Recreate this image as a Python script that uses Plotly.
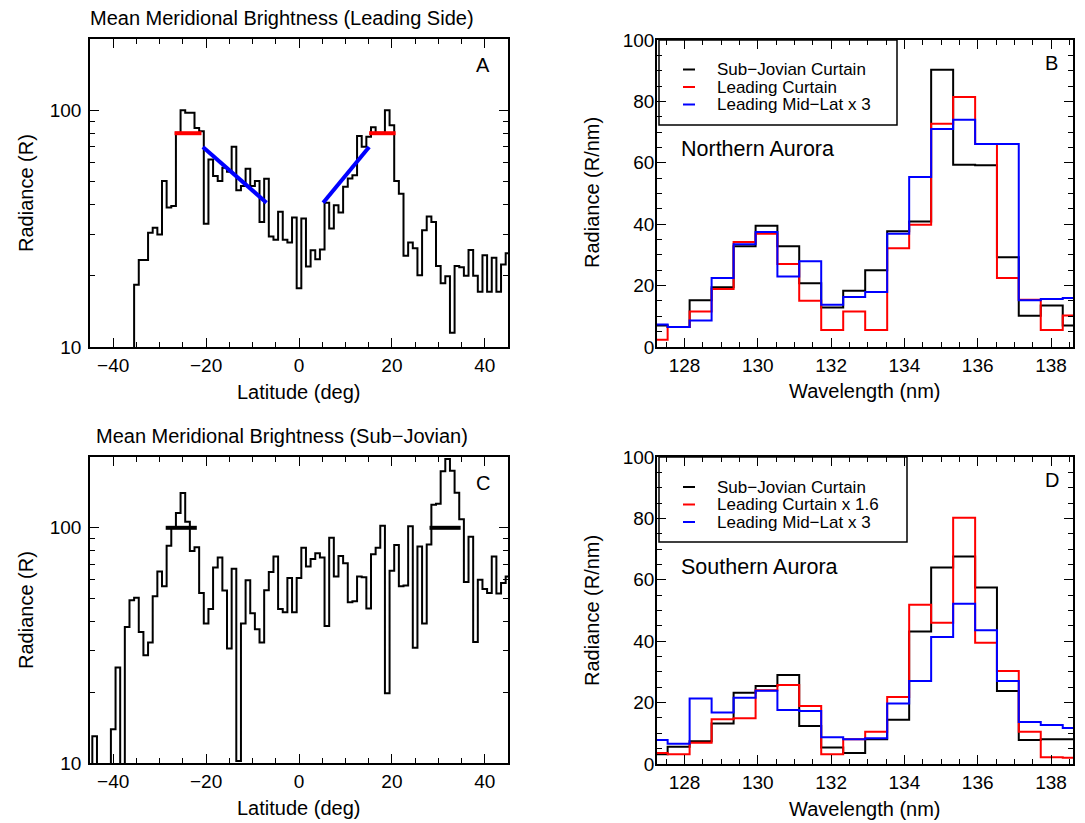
import plotly.graph_objects as go

# page body has an 8 px margin: the figure is drawn 8 px in from the top-left
OFF = 8
W, H = 1085 - OFF, 823 - OFF
FONT = "Liberation Sans, Arial, Helvetica, sans-serif"

# ---------------- data ----------------
lat = list(range(-45, 46))

leading_side = [
    5, 5, 5, 5, 5, 5, 5, 5, 5, 5,
    18.3, 23.3, 23.3, 30.4, 31.9, 29.9, 50.2, 38.8, 39.4, 80.3,
    100, 97.5, 97.5, 84.2, 81.6, 33.2, 62.0, 52.7, 50.2, 57.2,
    55.0, 70.2, 45.9, 47.9, 56.6, 47.9, 50.2, 33.7, 51.4, 29.3,
    28.4, 37.3, 28.4, 27.6, 35.2, 17.7, 34.9, 21.9, 25.6, 23.5,
    25.8, 40.7, 31.7, 39.7, 37.0, 47.5, 51.5, 53.2, 77.8, 70.1,
    77.3, 84.8, 80.3, 80.3, 100, 86.5, 50.2, 44.4, 24.3, 27.6,
    26.1, 20.1, 31.1, 35.6, 33.7, 22.0, 18.6, 19.9, 11.5, 22.0,
    21.7, 20.0, 25.7, 20.0, 17.1, 24.4, 17.1, 23.8, 17.1, 22.3, 24.9,
]

sub_jovian = [
    5, 13.0, 5, 5, 5, 13.9, 25.5, 5, 37.9, 49.2,
    50.4, 36.1, 28.7, 32.5, 51.2, 65.2, 56.4, 83.9, 100.3, 115.7,
    140.5, 106, 79.7, 82.6, 52.8, 39.2, 45.2, 67.8, 74.7, 54.1,
    30.7, 66.9, 10.2, 39.2, 59.8, 43.3, 37.0, 32.5, 54.2, 64.8,
    75.5, 45.2, 43.8, 61.1, 43.8, 61.1, 82.3, 68.5, 73.6, 77.9,
    74.7, 38.2, 90.7, 62.1, 75.9, 70.7, 48.3, 48.7, 62.1, 61.7,
    45.4, 77.2, 82.3, 102, 19.8, 65.7, 84.5, 56.4, 56.9, 101.6,
    30.9, 83.2, 39.2, 85, 125.4, 126.6, 174, 196, 175, 141,
    108.8, 58.8, 91.6, 32.7, 60.1, 54.9, 52.8, 75.5, 52.5, 58.2, 62.1,
]

lead_flat_lat = [[-26.8, -21.0], [15.1, 20.8]]
lead_flat_val = [80, 80]
lead_slope_lat = [[-20.7, -7.0], [5.2, 15.1]]
lead_slope_val = [[69.9, 40.7], [40.7, 69.9]]
subjov_flat_lat = [[-28.7, -22.0], [28.1, 34.8]]
subjov_flat_val = [100, 100]

wavelength = [127.24, 127.84, 128.44, 129.04, 129.64, 130.24, 130.83, 131.43,
              132.03, 132.63, 133.23, 133.83, 134.43, 135.03, 135.63, 136.23,
              136.82, 137.42, 138.02, 138.62]

north_subjov = [7.0, 6.5, 15.2, 19.5, 32.8, 39.5, 32.8, 20.8, 12.9, 18.3,
                25.0, 37.7, 40.9, 90.3, 59.4, 59.2, 29.2, 10.2, 13.5, 7.0]
north_lead = [2.4, 6.5, 11.6, 18.9, 34.2, 36.9, 27.0, 15.1, 5.5, 11.6,
              5.5, 32.2, 39.8, 72.7, 81.4, 66.1, 22.5, 15.4, 5.5, 10.3]
north_mid = [7.3, 6.5, 8.6, 22.5, 33.5, 37.5, 23.0, 27.9, 13.8, 16.3,
             17.9, 36.9, 55.4, 71.0, 74.0, 66.1, 66.1, 15.2, 15.6, 16.0]

south_subjov = [3.2, 5.6, 7.4, 13.2, 23.2, 25.4, 29.0, 12.4, 5.4, 3.6,
                8.1, 14.4, 43.2, 64.0, 67.6, 57.5, 23.8, 7.8, 8.1, 8.1]
south_lead = [3.6, 3.2, 6.9, 14.6, 14.9, 24.0, 25.7, 18.9, 3.2, 8.1,
              10.5, 21.8, 51.9, 46.0, 80.2, 39.5, 30.3, 10.5, 2.2, 2.0]
south_mid = [7.8, 6.6, 21.3, 16.8, 21.6, 23.9, 17.6, 17.3, 8.7, 8.1,
             8.4, 19.7, 27.0, 41.4, 52.2, 43.6, 27.0, 13.7, 12.7, 11.7]

names_north = ["Sub\u2212Jovian Curtain", "Leading Curtain", "Leading Mid\u2212Lat x 3"]
names_south = ["Sub\u2212Jovian Curtain", "Leading Curtain x 1.6", "Leading Mid\u2212Lat x 3"]
series_colors = ["black", "red", "blue"]


# ---------------- helpers (window pixels -> paper fractions) ----------------
def fx(p):
    return (p - OFF) / W


def fy(p):
    return 1 - (p - OFF) / H


fig = go.Figure()


def hist(x, y, xa, ya, color="black", width=2):
    fig.add_trace(go.Scatter(x=x, y=y, mode="lines", xaxis=xa, yaxis=ya,
                             line=dict(color=color, width=width, shape="hvh"),
                             showlegend=False, hoverinfo="skip"))


def seg(x, y, xa, ya, color, width=4):
    fig.add_trace(go.Scatter(x=x, y=y, mode="lines", xaxis=xa, yaxis=ya,
                             line=dict(color=color, width=width),
                             showlegend=False, hoverinfo="skip"))


# Panel A
hist(lat, leading_side, "x", "y")
for xs, v in zip(lead_flat_lat, lead_flat_val):
    seg(xs, [v, v], "x", "y", "red")
for xs, ys in zip(lead_slope_lat, lead_slope_val):
    seg(xs, ys, "x", "y", "blue")

# Panel C
hist(lat, sub_jovian, "x3", "y3")
for xs, v in zip(subjov_flat_lat, subjov_flat_val):
    seg(xs, [v, v], "x3", "y3", "black")

# Panel B
for ys, c in zip([north_subjov, north_lead, north_mid], series_colors):
    hist(wavelength, ys, "x2", "y2", c)
# Panel D
for ys, c in zip([south_subjov, south_lead, south_mid], series_colors):
    hist(wavelength, ys, "x4", "y4", c)

# ---------------- axes ----------------
tickfont = dict(family=FONT, size=19, color="black")


def base_axis(**kw):
    d = dict(showline=True, linecolor="black", linewidth=1.5, mirror="ticks",
             ticks="inside", ticklen=9, tickwidth=1.3, tickcolor="black",
             showgrid=False, zeroline=False, tickfont=tickfont, fixedrange=True,
             automargin=False)
    d.update(kw)
    return d


def minor(**kw):
    d = dict(ticks="inside", ticklen=5, tickwidth=1.3, tickcolor="black", showgrid=False)
    d.update(kw)
    return d


lat_axis = dict(range=[-45, 45], tickmode="array", tickvals=[-40, -20, 0, 20, 40],
                minor=minor(tickmode="linear", tick0=0, dtick=5),
                ticklabelstandoff=0)
log_axis = dict(type="log", range=[1, 2.30103], tickmode="array", tickvals=[10, 100],
                ticktext=["10", "100"],
                minor=minor(tickmode="array", tickvals=[20, 30, 40, 50, 60, 70, 80, 90, 200]),
                ticklabelstandoff=3)
wl_axis = dict(range=[127.25, 138.6], tickmode="linear", tick0=128, dtick=2,
               minor=minor(tickmode="linear", tick0=128, dtick=0.5),
               ticklabelstandoff=0)
rad_axis = dict(range=[0, 100], tickmode="linear", tick0=0, dtick=20,
                minor=minor(tickmode="linear", tick0=0, dtick=5),
                ticklabelstandoff=-3)

fig.update_layout(
    xaxis=base_axis(domain=[fx(90), fx(508)], anchor="y", **lat_axis),
    yaxis=base_axis(domain=[fy(347), fy(39)], anchor="x", **log_axis),
    xaxis2=base_axis(domain=[fx(657), fx(1073)], anchor="y2", **wl_axis),
    yaxis2=base_axis(domain=[fy(347), fy(40)], anchor="x2", **rad_axis),
    xaxis3=base_axis(domain=[fx(90), fx(508)], anchor="y3", **lat_axis),
    yaxis3=base_axis(domain=[fy(763), fy(457)], anchor="x3", **log_axis),
    xaxis4=base_axis(domain=[fx(657), fx(1073)], anchor="y4", **wl_axis),
    yaxis4=base_axis(domain=[fy(764), fy(457)], anchor="x4", **rad_axis),
)

# ---------------- text ----------------
ann = []


def text(s, x, y, size=20, xanchor="center", yanchor="middle", angle=0):
    ann.append(dict(text=s, x=fx(x), y=fy(y), xref="paper", yref="paper",
                    xanchor=xanchor, yanchor=yanchor, showarrow=False, textangle=angle,
                    font=dict(family=FONT, size=size, color="black")))


text("Mean Meridional Brightness (Leading Side)", 88, 18, 20, xanchor="left")
text("Mean Meridional Brightness (Sub\u2212Jovian)", 94, 436, 20, xanchor="left")
text("Latitude (deg)", 299, 392, 20)
text("Latitude (deg)", 299, 808, 20)
text("Wavelength (nm)", 865, 391, 20)
text("Wavelength (nm)", 865, 809, 20)
text("Radiance (R)", 26, 193, 20, angle=-90)
text("Radiance (R)", 26, 610, 20, angle=-90)
text("Radiance (R/nm)", 592, 193, 20, angle=-90)
text("Radiance (R/nm)", 592, 611, 20, angle=-90)
text("A", 483, 65, 20)
text("B", 1051, 63, 20)
text("C", 483, 483, 20)
text("D", 1052, 480, 20)
text("Northern Aurora", 679, 149, 21.5, xanchor="left")
text("Southern Aurora", 679, 567, 21.5, xanchor="left")

shapes = []


def legend_box(x0, y0, x1, y1, rows, names):
    shapes.append(dict(type="rect", xref="paper", yref="paper", x0=fx(x0), x1=fx(x1),
                       y0=fy(y1), y1=fy(y0), line=dict(color="black", width=1.5)))
    for ry, nm, c in zip(rows, names, series_colors):
        shapes.append(dict(type="line", xref="paper", yref="paper", x0=fx(683), x1=fx(695),
                           y0=fy(ry), y1=fy(ry), line=dict(color=c, width=2)))
        text(nm, 715, ry, 17, xanchor="left")


legend_box(659, 40, 897, 125, [69.5, 87.0, 104.5], names_north)
legend_box(659, 457, 907, 542, [487.0, 504.5, 522.0], names_south)

fig.update_layout(
    width=W, height=H, autosize=False,
    margin=dict(l=0, r=0, t=0, b=0, pad=0, autoexpand=False),
    paper_bgcolor="white", plot_bgcolor="white",
    annotations=ann, shapes=shapes, showlegend=False,
    font=dict(family=FONT, color="black"),
)

fig.write_html("out.html")
